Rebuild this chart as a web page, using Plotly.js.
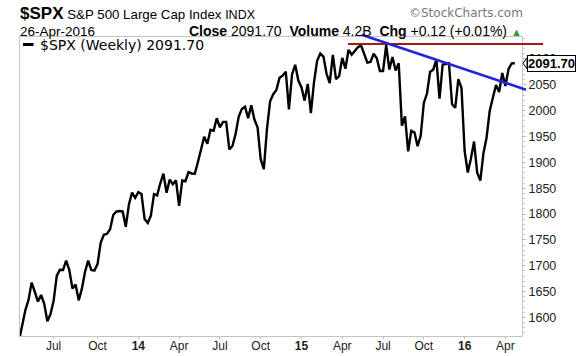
<!DOCTYPE html>
<html><head><meta charset="utf-8">
<script src="https://cdn.plot.ly/plotly-3.0.1.min.js"></script>
<style>html,body{margin:0;padding:0;background:#fff}#chart{width:576px;height:356px}</style>
</head><body><div id="chart"></div>
<script>
// Week (Monday) dates of each weekly bar
const weekDates = [
 '2013-04-15','2013-04-22','2013-04-29','2013-05-06','2013-05-13','2013-05-20','2013-05-27',
 '2013-06-03','2013-06-10','2013-06-17','2013-06-24','2013-07-01','2013-07-08','2013-07-15',
 '2013-07-22','2013-07-29','2013-08-05','2013-08-12','2013-08-19','2013-08-26','2013-09-02',
 '2013-09-09','2013-09-16','2013-09-23','2013-09-30','2013-10-07','2013-10-14','2013-10-21',
 '2013-10-28','2013-11-04','2013-11-11','2013-11-18','2013-11-25','2013-12-02','2013-12-09',
 '2013-12-16','2013-12-23','2013-12-30',
 '2014-01-06','2014-01-13','2014-01-20','2014-01-27','2014-02-03','2014-02-10','2014-02-17',
 '2014-02-24','2014-03-03','2014-03-10','2014-03-17','2014-03-24','2014-03-31','2014-04-07',
 '2014-04-14','2014-04-21','2014-04-28','2014-05-05','2014-05-12','2014-05-19','2014-05-26',
 '2014-06-02','2014-06-09','2014-06-16','2014-06-23','2014-06-30','2014-07-07','2014-07-14',
 '2014-07-21','2014-07-28','2014-08-04','2014-08-11','2014-08-18','2014-08-25','2014-09-01',
 '2014-09-08','2014-09-15','2014-09-22','2014-09-29','2014-10-06','2014-10-13','2014-10-20',
 '2014-10-27','2014-11-03','2014-11-10','2014-11-17','2014-11-24','2014-12-01','2014-12-08',
 '2014-12-15','2014-12-22','2014-12-29',
 '2015-01-05','2015-01-12','2015-01-19','2015-01-26','2015-02-02','2015-02-09','2015-02-16',
 '2015-02-23','2015-03-02','2015-03-09','2015-03-16','2015-03-23','2015-03-30','2015-04-06',
 '2015-04-13','2015-04-20','2015-04-27','2015-05-04','2015-05-11','2015-05-18','2015-05-25',
 '2015-06-01','2015-06-08','2015-06-15','2015-06-22','2015-06-29','2015-07-06','2015-07-13',
 '2015-07-20','2015-07-27','2015-08-03','2015-08-10','2015-08-17','2015-08-24','2015-08-31',
 '2015-09-07','2015-09-14','2015-09-21','2015-09-28','2015-10-05','2015-10-12','2015-10-19',
 '2015-10-26','2015-11-02','2015-11-09','2015-11-16','2015-11-23','2015-11-30','2015-12-07',
 '2015-12-14','2015-12-21','2015-12-28',
 '2016-01-04','2016-01-11','2016-01-18','2016-01-25','2016-02-01','2016-02-08','2016-02-15',
 '2016-02-22','2016-02-29','2016-03-07','2016-03-14','2016-03-21','2016-03-28','2016-04-04',
 '2016-04-11','2016-04-18','2016-04-25'
];
// Weekly closes of $SPX
const weeklyClose = [
 1555.25,1582.24,1614.42,1633.70,1667.47,1649.60,1630.74,
 1643.38,1626.73,1592.43,1606.28,1631.89,1680.19,1692.09,
 1691.65,1709.67,1691.42,1655.83,1663.50,1632.97,1655.17,
 1687.99,1709.91,1691.75,1690.50,1703.20,1744.50,1759.77,
 1761.64,1770.61,1798.18,1804.76,1805.81,1805.09,1775.32,
 1818.32,1841.40,1831.37,
 1842.37,1838.70,1790.29,1782.59,1797.02,1838.63,1836.25,
 1859.45,1878.04,1841.13,1866.52,1857.62,1865.09,1815.69,
 1864.85,1863.40,1881.14,1878.48,1877.86,1900.53,1923.57,
 1949.44,1936.16,1962.87,1960.96,1985.44,1967.57,1978.22,
 1978.34,1925.15,1931.59,1955.06,1988.40,2003.37,2007.71,
 1985.54,2010.40,1982.85,1967.90,1906.13,1886.76,1964.58,
 2018.05,2031.92,2039.82,2063.50,2067.56,2075.37,2002.33,
 2070.65,2088.77,2058.20,
 2044.81,2019.42,2051.82,1994.99,2055.47,2096.99,2110.30,
 2104.50,2071.26,2053.40,2108.10,2061.02,2066.96,2102.06,
 2081.18,2117.69,2108.29,2116.10,2122.73,2126.06,2107.39,
 2092.83,2094.11,2109.99,2101.49,2076.78,2076.62,2126.64,
 2079.65,2103.84,2077.57,2091.54,1970.89,1988.87,1921.22,
 1961.05,1958.08,1931.34,1951.36,2014.89,2033.11,2075.15,
 2079.36,2099.20,2023.04,2089.17,2090.11,2091.69,2012.37,
 2005.55,2060.99,2043.94,
 1922.03,1880.33,1906.90,1940.24,1880.05,1864.78,1917.78,
 1948.05,1999.99,2022.19,2049.58,2035.94,2072.78,2047.60,
 2080.73,2091.58,2091.70
];
// Axis ticks
const xTickVals = ['2013-07-01','2013-10-07','2014-01-06','2014-04-07','2014-07-07','2014-10-06',
                   '2015-01-05','2015-04-06','2015-07-06','2015-10-05','2016-01-04','2016-04-04'];
const xTickText = ['Jul','Oct','<b>14</b>','Apr','Jul','Oct','<b>15</b>','Apr','Jul','Oct','<b>16</b>','Apr'];
const yTickVals = [1600,1650,1700,1750,1800,1850,1900,1950,2000,2050,2100];
// Drawn trend lines (date, value)
const resistanceDates = ['2015-04-19','2016-06-27'];
const resistanceLevel = 2129;
const trendDates = ['2015-05-19','2016-05-20'];
const trendValues = [2147, 2040.5];
// Header figures
const lastClose = 2091.70;
const closeText = '2091.70', volumeText = '4.2B', chgText = '+0.12 (+0.01%)';

const xRange = ['2013-04-17','2016-05-11'];
const yRange = [1564, 2142.5];
const px = d => (Date.parse(d) - Date.parse(xRange[0])) / (Date.parse(xRange[1]) - Date.parse(xRange[0]));
const py = v => (v - yRange[0]) / (yRange[1] - yRange[0]);

const AR = 'Liberation Sans, Arial, sans-serif';
const DV = 'DejaVu Sans, Verdana, sans-serif';

const trace = {
  x: weekDates, y: weeklyClose, type: 'scatter', mode: 'lines',
  line: {color: '#000', width: 2.4}, hoverinfo: 'skip', showlegend: false
};

const H = 299; // plot height in px
const yp = p => (336 - p) / H;   // header pixel -> paper
const xp = p => (p - 20) / 502;

const layout = {
  width: 576, height: 356,
  margin: {l: 20, r: 54, t: 37, b: 20, pad: 0},
  paper_bgcolor: '#fff', plot_bgcolor: '#fff',
  showlegend: false,
  xaxis: {
    type: 'date', range: xRange, tickmode: 'array', tickvals: xTickVals, ticktext: xTickText,
    showgrid: false, zeroline: false, showline: true, linecolor: '#c4c4c4', linewidth: 1, mirror: true,
    ticks: 'outside', ticklen: 2, tickcolor: '#bbb', ticklabelstandoff: -3,
    tickfont: {family: AR, size: 12, color: '#222'}
  },
  yaxis: {
    side: 'right', range: yRange, tickmode: 'array', tickvals: yTickVals,
    showgrid: false, zeroline: false, showline: true, linecolor: '#c4c4c4', linewidth: 1, mirror: true,
    ticks: 'outside', ticklen: 3, tickcolor: '#bbb',
    minor: {dtick: 10, ticks: 'outside', ticklen: 2, tickcolor: '#ccc', showgrid: false},
    tickfont: {family: AR, size: 12.5, color: '#222'}
  },
  shapes: [
    {type: 'line', xref: 'paper', yref: 'paper', x0: px(resistanceDates[0]), x1: px(resistanceDates[1]),
     y0: py(resistanceLevel), y1: py(resistanceLevel), line: {color: '#a31818', width: 2.2}},
    {type: 'line', xref: 'paper', yref: 'paper', x0: px(trendDates[0]), x1: px(trendDates[1]),
     y0: py(trendValues[0]), y1: py(trendValues[1]), line: {color: '#2424dc', width: 2.6}},
    {type: 'line', xref: 'paper', yref: 'paper', x0: xp(23), x1: xp(33.5), y0: yp(44.5), y1: yp(44.5),
     line: {color: '#000', width: 3}},
    {type: 'path', xref: 'paper', yref: 'paper',
     path: 'M ' + (1 + 1/502) + ',' + py(lastClose) + ' L ' + (1 + 5/502) + ',' + (py(lastClose) + 5.5/H) +
           ' L ' + (1 + 5/502) + ',' + (py(lastClose) - 5.5/H) + ' Z',
     fillcolor: '#fff', line: {color: '#000', width: 1}}
  ],
  annotations: [
    {xref: 'paper', yref: 'paper', x: xp(17.5), y: yp(13.3), xanchor: 'left', yanchor: 'middle', showarrow: false,
     text: '<b><span style="font-size:17px">$SPX</span></b> S&amp;P 500 Large Cap Index <span style="font-size:12.5px">INDX</span>',
     font: {family: AR, size: 13.3, color: '#000'}},
    {xref: 'paper', yref: 'paper', x: xp(525), y: yp(13.5), xanchor: 'right', yanchor: 'middle', showarrow: false,
     text: '©StockCharts.com', font: {family: DV, size: 12, color: '#777'}},
    {xref: 'paper', yref: 'paper', x: xp(17.5), y: yp(31), xanchor: 'left', yanchor: 'middle', showarrow: false,
     text: '26-Apr-2016', font: {family: AR, size: 13.5, color: '#000'}},
    {xref: 'paper', yref: 'paper', x: xp(524), y: yp(31), xanchor: 'right', yanchor: 'middle', showarrow: false,
     text: '<b>Close</b> ' + closeText + '  <b>Volume</b> ' + volumeText + '  <b>Chg</b> ' + chgText +
           ' <span style="font-size:11px;color:#2e9a3a">▲</span>',
     font: {family: AR, size: 14, color: '#000'}},
    {xref: 'paper', yref: 'paper', x: xp(37.5), y: yp(45.5), xanchor: 'left', yanchor: 'middle', showarrow: false,
     text: '$SPX (Weekly) 2091.70', font: {family: DV, size: 14, color: '#000'}},
    {xref: 'paper', yref: 'y', x: 1 + 5/502, y: lastClose, xanchor: 'left', yanchor: 'middle', showarrow: false,
     text: '<b>' + lastClose.toFixed(2) + '</b>', font: {family: AR, size: 13, color: '#000'},
     bgcolor: '#fff', bordercolor: '#000', borderwidth: 1, borderpad: 0}
  ]
};

Plotly.newPlot('chart', [trace], layout, {displayModeBar: false, staticPlot: true});
</script></body></html>
